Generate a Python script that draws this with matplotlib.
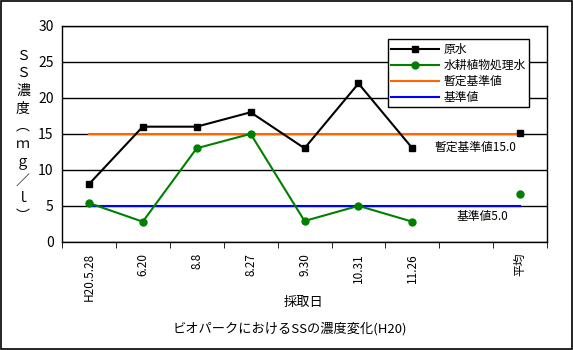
#!/usr/bin/env python3

import numpy as np
import matplotlib
matplotlib.use("Agg")
import matplotlib.pyplot as plt
from matplotlib.patches import Rectangle

plt.rcParams['font.family'] = ['Noto Sans CJK JP', 'DejaVu Sans']

# data
dates = ["H20.5.28", "6.20", "8.8", "8.27", "9.30", "10.31", "11.26", "", "平均"]
raw_water = [8, 16, 16, 18, 13, 22, 13, np.nan, 15.1]
treated_water = [5.4, 2.8, 13, 15, 2.9, 5.0, 2.8, np.nan, 6.7]
provisional_std = [15.0] * 9
standard = [5.0] * 9

x = np.arange(len(dates))

fig = plt.figure(figsize=(5.73, 3.5), dpi=100)
ax = fig.add_axes([0.108, 0.309, 0.847, 0.617])

# series (means at the end are drawn as separate points, not joined)
ax.plot(x[:7], raw_water[:7], color='black', lw=1.5, marker='s', ms=5, label='原水', zorder=4)
ax.plot(x[8:], raw_water[8:], color='black', lw=0, marker='s', ms=5, zorder=4)
ax.plot(x[:7], treated_water[:7], color='#008000', lw=1.5, marker='o', ms=5, label='水耕植物処理水', zorder=4)
ax.plot(x[8:], treated_water[8:], color='#008000', lw=0, marker='o', ms=5, zorder=4)
ax.plot(x, provisional_std, color='#FF6600', lw=1.5, label='暫定基準値', zorder=3)
ax.plot(x, standard, color='#0000FF', lw=1.5, label='基準値', zorder=3)

ax.text(7.17, 13.2, '暫定基準値15.0', fontsize=8.5, ha='center', va='center')
ax.text(7.3, 3.5, '基準値5.0', fontsize=8.5, ha='center', va='center')

ax.set_xlim(-0.5, len(dates) - 0.5)
ax.set_ylim(0, 30)
ax.set_yticks(range(0, 31, 5))
ax.yaxis.grid(True, color='black', lw=1)
ax.set_axisbelow(True)
ax.tick_params(axis='y', length=0, labelsize=10, pad=6)

ax.set_xticks(x)
ax.set_xticklabels(dates, rotation=90, fontsize=8.5)
ax.tick_params(axis='x', which='major', length=0, pad=8)
ax.set_xticks(np.arange(-0.5, len(dates), 1), minor=True)
ax.tick_params(axis='x', which='minor', length=4, direction='out', color='black')
for s in ax.spines.values():
    s.set_color('black')
    s.set_linewidth(1)

leg = ax.legend(loc='upper right', bbox_to_anchor=(0.975, 0.965), fontsize=8.5,
                frameon=True, fancybox=False, edgecolor='black', framealpha=1,
                handlelength=4, borderpad=0.3, labelspacing=0.25, handletextpad=0.4)
leg.get_frame().set_linewidth(1)

fig.text(0.04, 0.612, 'Ｓ\nＳ\n濃\n度\n︵\nｍ\nｇ\n／\nｌ\n︶', fontsize=10,
         ha='center', va='center', linespacing=1.34)
fig.text(0.53, 0.137, '採取日', fontsize=9.5, ha='center', va='center')
fig.text(0.505, 0.062, 'ビオパークにおけるSSの濃度変化(H20)', fontsize=9.5, ha='center', va='center')

fig.patches.append(Rectangle((0.001, 0.002), 0.997, 0.995, transform=fig.transFigure,
                             fill=False, edgecolor='black', lw=1.2))

fig.savefig('out.png', dpi=100)
